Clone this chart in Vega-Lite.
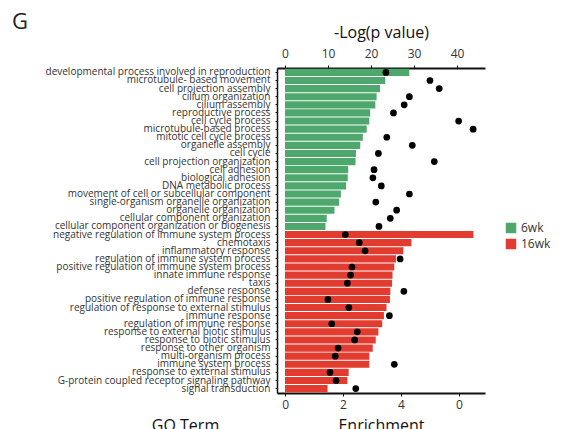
{
  "$schema": "https://vega.github.io/schema/vega-lite/v6.json",
  "width": 208,
  "height": 325,
  "autosize": {"type": "none"},
  "padding": {"left": 277, "top": 68, "right": 76, "bottom": 36},
  "background": "white",
  "title": {"text": "G", "anchor": "start", "frame": "group", "fontSize": 22, "fontWeight": "normal", "font": "Open Sans", "color": "#222", "dx": -265, "dy": 14},
  "config": {
    "view": {"stroke": null},
    "font": "Open Sans",
    "axis": {"grid": false, "domainColor": "#111", "tickColor": "#111", "labelColor": "#333", "titleColor": "#111", "titleFontWeight": "normal", "labelFont": "Open Sans", "titleFont": "Open Sans"}
  },
  "data": {"values": [
    {"term": "developmental process involved in reproduction", "group": "6wk", "logp": 28.9, "enrich": 3.48},
    {"term": "microtubule- based movement", "group": "6wk", "logp": 23.3, "enrich": 5.0},
    {"term": "cell projection assembly", "group": "6wk", "logp": 22.1, "enrich": 5.32},
    {"term": "cilium organization", "group": "6wk", "logp": 21.3, "enrich": 4.29},
    {"term": "cilium assembly", "group": "6wk", "logp": 21.0, "enrich": 4.11},
    {"term": "reproductive process", "group": "6wk", "logp": 19.8, "enrich": 3.74},
    {"term": "cell cycle process", "group": "6wk", "logp": 19.6, "enrich": 5.99},
    {"term": "microtubule-based process", "group": "6wk", "logp": 19.0, "enrich": 6.49},
    {"term": "mitotic cell cycle process", "group": "6wk", "logp": 18.1, "enrich": 3.51},
    {"term": "organelle assembly", "group": "6wk", "logp": 17.5, "enrich": 4.39},
    {"term": "cell cycle", "group": "6wk", "logp": 16.5, "enrich": 3.22},
    {"term": "cell projection organization", "group": "6wk", "logp": 16.4, "enrich": 5.15},
    {"term": "cell adhesion", "group": "6wk", "logp": 14.7, "enrich": 3.07},
    {"term": "biological adhesion", "group": "6wk", "logp": 14.6, "enrich": 3.03},
    {"term": "DNA metabolic process", "group": "6wk", "logp": 14.2, "enrich": 3.32},
    {"term": "movement of cell or subcellular component", "group": "6wk", "logp": 13.0, "enrich": 4.29},
    {"term": "single-organism organelle organization", "group": "6wk", "logp": 12.6, "enrich": 3.13},
    {"term": "organelle organization", "group": "6wk", "logp": 11.5, "enrich": 3.85},
    {"term": "cellular component organization", "group": "6wk", "logp": 9.7, "enrich": 3.63},
    {"term": "cellular component organization or biogenesis", "group": "6wk", "logp": 9.4, "enrich": 3.24},
    {"term": "negative regulation of immune system process", "group": "16wk", "logp": 43.8, "enrich": 2.08},
    {"term": "chemotaxis", "group": "16wk", "logp": 29.4, "enrich": 2.56},
    {"term": "inflammatory response", "group": "16wk", "logp": 27.5, "enrich": 2.76},
    {"term": "regulation of immune system process", "group": "16wk", "logp": 25.8, "enrich": 3.97},
    {"term": "positive regulation of immune system process", "group": "16wk", "logp": 25.4, "enrich": 2.31},
    {"term": "innate immune response", "group": "16wk", "logp": 25.0, "enrich": 2.26},
    {"term": "taxis", "group": "16wk", "logp": 24.9, "enrich": 2.15},
    {"term": "defense response", "group": "16wk", "logp": 24.5, "enrich": 4.1},
    {"term": "positive regulation of immune response", "group": "16wk", "logp": 24.4, "enrich": 1.48},
    {"term": "regulation of response to external stimulus", "group": "16wk", "logp": 23.6, "enrich": 2.2},
    {"term": "immune response", "group": "16wk", "logp": 23.0, "enrich": 3.6},
    {"term": "regulation of immune response", "group": "16wk", "logp": 22.6, "enrich": 1.61},
    {"term": "response to external biotic stimulus", "group": "16wk", "logp": 21.7, "enrich": 2.49},
    {"term": "response to biotic stimulus", "group": "16wk", "logp": 21.1, "enrich": 2.4},
    {"term": "response to other organism", "group": "16wk", "logp": 20.4, "enrich": 1.83},
    {"term": "multi-organism process", "group": "16wk", "logp": 19.6, "enrich": 1.73},
    {"term": "immune system process", "group": "16wk", "logp": 19.6, "enrich": 3.77},
    {"term": "response to external stimulus", "group": "16wk", "logp": 14.8, "enrich": 1.55},
    {"term": "G-protein coupled receptor signaling pathway", "group": "16wk", "logp": 14.5, "enrich": 1.76},
    {"term": "signal transduction", "group": "16wk", "logp": 9.9, "enrich": 2.44}
  ]},
  "encoding": {
    "y": {"field": "term", "type": "nominal", "sort": null,
      "scale": {"paddingInner": 0.12, "paddingOuter": 0.1},
      "axis": {"title": "GO Term", "titleAngle": 0, "titleX": -92, "titleY": 362, "titleAlign": "center", "titleBaseline": "alphabetic", "titleFontSize": 16, "labelFontSize": 10, "labelPadding": 5, "tickSize": 2, "domainWidth": 1.5, "labelLimit": 300}}
  },
  "layer": [
    {
      "mark": {"type": "bar"},
      "encoding": {
        "x": {"field": "logp", "type": "quantitative", "scale": {"domain": [-1.86, 46.5], "nice": false, "zero": false},
          "axis": {"orient": "top", "values": [0, 10, 20, 30, 40], "title": "-Log(p value)", "titleFontSize": 16, "labelFontSize": 12, "tickSize": 3, "domainWidth": 2, "labelPadding": 5, "titlePadding": 7}},
        "color": {"field": "group", "type": "nominal", "scale": {"domain": ["6wk", "16wk"], "range": ["#4ea86e", "#e23b2f"]},
          "legend": {"title": null, "orient": "none", "legendX": 228, "legendY": 154, "symbolType": "square", "symbolSize": 110, "symbolStrokeWidth": 0, "labelFontSize": 12, "labelColor": "#333", "rowPadding": 4}}
      }
    },
    {
      "mark": {"type": "point", "filled": true, "color": "black", "size": 45, "opacity": 1},
      "encoding": {
        "x": {"field": "enrich", "type": "quantitative", "scale": {"domain": [-0.28, 6.9], "nice": false, "zero": false},
          "axis": {"orient": "bottom", "values": [0, 2, 4, 6], "labelExpr": "datum.value == 6 ? '0' : datum.label", "title": "Enrichment", "titleFontSize": 16, "labelFontSize": 12, "tickSize": 3, "domainWidth": 2, "labelPadding": 3, "titlePadding": 7}}
      }
    }
  ],
  "resolve": {"scale": {"x": "independent"}, "axis": {"x": "independent"}}
}
